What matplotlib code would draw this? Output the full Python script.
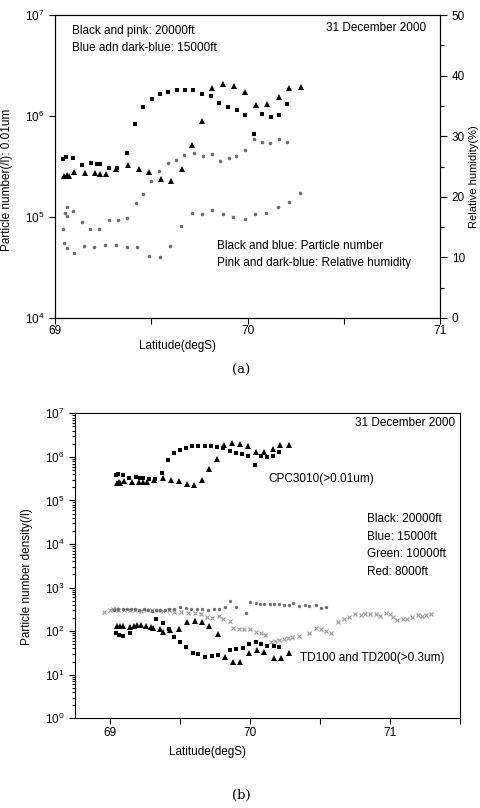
import matplotlib
matplotlib.use("Agg")
import matplotlib.pyplot as plt
from matplotlib.ticker import (LogLocator, FixedLocator, MultipleLocator,
                               NullFormatter, NullLocator)

plt.rcParams['font.family'] = ['Liberation Sans', 'DejaVu Sans']
plt.rcParams['mathtext.fontset'] = 'custom'
plt.rcParams['mathtext.rm'] = 'Liberation Sans'

# CPC3010 particle number (>0.01um), 20000ft (black squares)
cpc20_lat = [69.043, 69.055, 69.095, 69.139, 69.187, 69.216, 69.234, 69.282, 69.324, 69.372,
             69.416, 69.459, 69.502, 69.545, 69.589, 69.632, 69.675, 69.719, 69.762, 69.809,
             69.854, 69.900, 69.944, 69.987, 70.035, 70.077, 70.120, 70.162, 70.205]
cpc20_val = [3.75e5, 3.95e5, 3.84e5, 3.3e5, 3.4e5, 3.35e5, 3.35e5, 3.06e5, 3.06e5, 4.34e5,
             8.27e5, 1.24e6, 1.46e6, 1.64e6, 1.73e6, 1.81e6, 1.81e6, 1.81e6, 1.65e6, 1.58e6,
             1.35e6, 1.24e6, 1.15e6, 1.02e6, 6.6e5, 1.04e6, 9.8e5, 1.03e6, 1.32e6]

# CPC3010 particle number, 15000ft (triangles)
cpc15_lat = [69.048, 69.061, 69.073, 69.099, 69.156, 69.208, 69.234, 69.265, 69.317, 69.381,
             69.435, 69.490, 69.551, 69.603, 69.658, 69.710, 69.762, 69.817, 69.874, 69.930,
             69.987, 70.044, 70.100, 70.162, 70.217, 70.276]
cpc15_val = [2.57e5, 2.6e5, 2.55e5, 2.77e5, 2.7e5, 2.7e5, 2.69e5, 2.64e5, 2.96e5, 3.27e5,
             2.99e5, 2.77e5, 2.38e5, 2.25e5, 2.97e5, 5.16e5, 8.9e5, 1.88e6, 2.07e6, 1.98e6,
             1.74e6, 1.28e6, 1.31e6, 1.53e6, 1.88e6, 1.92e6]

# relative humidity (%), 20000ft (pink)
rh20_lat = [69.043, 69.052, 69.061, 69.062, 69.094, 69.139, 69.184, 69.229, 69.282, 69.327,
            69.374, 69.419, 69.459, 69.497, 69.542, 69.589, 69.629, 69.672, 69.722, 69.767,
            69.814, 69.857, 69.902, 69.940, 69.989, 70.034, 70.074, 70.118, 70.162, 70.203]
rh20_val = [14.7, 17.3, 18.3, 16.8, 17.7, 15.9, 14.7, 14.7, 16.1, 16.1,
            16.5, 18.9, 20.4, 22.6, 24.2, 25.5, 26.1, 26.9, 27.3, 26.8,
            27.1, 25.9, 26.4, 26.8, 27.8, 29.5, 29.0, 28.9, 29.5, 29.1]

# relative humidity (%), 15000ft (dark-blue)
rh15_lat = [69.049, 69.062, 69.099, 69.149, 69.204, 69.260, 69.317, 69.376, 69.428, 69.490,
            69.544, 69.599, 69.655, 69.710, 69.764, 69.814, 69.871, 69.926, 69.985, 70.039,
            70.098, 70.157, 70.214, 70.274]
rh15_val = [12.3, 11.5, 10.7, 11.8, 11.7, 12.0, 12.0, 11.7, 11.7, 10.3,
            10.0, 11.8, 15.1, 17.3, 17.1, 17.8, 17.1, 16.6, 16.3, 17.1,
            17.3, 18.3, 19.2, 20.7]

# TD100/TD200 (>0.3um), 20000ft
td20_lat = [69.045, 69.065, 69.09, 69.14, 69.33, 69.38, 69.42, 69.46, 69.50, 69.54,
            69.59, 69.63, 69.68, 69.73, 69.77, 69.86, 69.90, 69.95, 69.99, 70.04,
            70.08, 70.12, 70.17, 70.21]
td20_val = [93, 80, 77, 92, 188, 152, 110, 72, 56, 43,
            32, 30, 26, 27, 29, 37, 39, 41, 50, 55,
            51, 46, 46, 43]

# TD, 15000ft
td15_lat = [69.048, 69.07, 69.09, 69.14, 69.17, 69.19, 69.22, 69.26, 69.29, 69.31,
            69.36, 69.38, 69.43, 69.49, 69.55, 69.61, 69.66, 69.71, 69.77, 69.82,
            69.88, 69.93, 69.99, 70.05, 70.10, 70.17, 70.22, 70.28]
td15_val = [130, 132, 132, 124, 132, 142, 137, 132, 124, 118,
            111, 96, 107, 111, 163, 169, 161, 128, 87, 25,
            20, 20, 32, 37, 34, 24, 24, 32]

# TD, 10000ft
td10_lat = [69.03, 69.06, 69.09, 69.12, 69.15, 69.18, 69.21, 69.24, 69.27, 69.30,
            69.33, 69.36, 69.39, 69.42, 69.46, 69.50, 69.54, 69.58, 69.62, 69.66,
            69.70, 69.74, 69.78, 69.82, 69.86, 69.90, 69.97, 70.00, 70.04, 70.07,
            70.10, 70.14, 70.17, 70.21, 70.24, 70.28, 70.31, 70.35, 70.39, 70.42,
            70.47, 70.51, 70.54]
td10_val = [310, 330, 320, 330, 320, 320, 310, 320, 300, 290,
            300, 310, 310, 330, 330, 350, 340, 330, 330, 320,
            310, 320, 330, 360, 480, 350, 260, 470, 440, 420,
            420, 423, 423, 410, 405, 401, 438, 380, 401, 380,
            401, 336, 355]

# TD, 8000ft
td8_lat = [68.96, 69.00, 69.02, 69.04, 69.06, 69.10, 69.14, 69.18, 69.22, 69.26,
           69.30, 69.34, 69.38, 69.42, 69.46, 69.51, 69.56, 69.61, 69.65, 69.69,
           69.73, 69.78, 69.81, 69.86, 69.88, 69.92, 69.96, 70.00, 70.04, 70.08,
           70.11, 70.15, 70.18, 70.21, 70.24, 70.27, 70.30, 70.35, 70.42, 70.47,
           70.51, 70.54, 70.58, 70.63, 70.67, 70.71, 70.75, 70.79, 70.82, 70.86,
           70.90, 70.93, 70.97, 71.00, 71.02, 71.05, 71.09, 71.12, 71.16, 71.20,
           71.23, 71.26, 71.29]
td8_val = [270, 300, 330, 320, 310, 300, 310, 300, 290, 300,
           310, 300, 290, 300, 280, 270, 260, 255, 245, 210,
           200, 225, 190, 175, 118, 115, 110, 110, 98, 90,
           82, 55, 58, 62, 66, 70, 73, 76, 90, 120,
           110, 103, 93, 160, 188, 210, 250, 235, 250, 246,
           246, 228, 258, 250, 210, 182, 188, 188, 215, 237,
           224, 237, 246]

lat_ticks = [69, 70, 71]

FS = 8.5
GRAY = '#6e6e6e'

fig = plt.figure(figsize=(4.8, 8.08), dpi=100)


def fig_text(x, y, s, ha='left'):
    # place text by pixel position (from top-left) of the figure
    fig.text(x / 480, 1 - y / 808, s, ha=ha, va='center', fontsize=FS)


# ---------------- panel (a) ----------------
ax = fig.add_axes([55 / 480, 1 - 318 / 808, 385 / 480, 303 / 808])
ax.set_yscale('log')
ax.set_xlim(69, 71)
ax.set_ylim(1e4, 1e7)
ax.plot(cpc20_lat, cpc20_val, 's', color='black', ms=2.8, mew=0)
ax.plot(cpc15_lat, cpc15_val, '^', color='black', ms=3.8, mew=0)
ax.xaxis.set_major_locator(FixedLocator(lat_ticks))
ax.xaxis.set_minor_locator(MultipleLocator(0.5))
ax.yaxis.set_major_locator(LogLocator(base=10, numticks=10))
ax.yaxis.set_minor_locator(NullLocator())
ax.tick_params(which='both', direction='out', labelsize=FS, width=0.8, length=4)
ax.tick_params(axis='x', pad=1)
ax.set_xticklabels([str(t) for t in lat_ticks])
ax.set_xlabel('Latitude(degS)', fontsize=FS)
ax.xaxis.set_label_coords((178 - 55) / 385, -0.072)
ax.set_ylabel('Particle number(/l): 0.01um', fontsize=FS)
ax.yaxis.set_label_coords(-0.11, 0.455)

ax2 = ax.twinx()
ax2.set_ylim(0, 50)
ax2.plot(rh20_lat, rh20_val, 'o', color=GRAY, ms=2.6, mew=0)
ax2.plot(rh15_lat, rh15_val, 'o', color=GRAY, ms=2.6, mew=0)
ax2.yaxis.set_major_locator(MultipleLocator(10))
ax2.yaxis.set_minor_locator(MultipleLocator(5))
ax2.tick_params(which='both', direction='out', labelsize=FS, width=0.8)
ax2.tick_params(which='major', length=5)
ax2.tick_params(which='minor', length=3)
ax2.set_ylabel('Relative humidity(%)', fontsize=8)
ax2.yaxis.set_label_coords((469 - 55) / 385, 0.465)

fig_text(72, 31, 'Black and pink: 20000ft')
fig_text(72, 48, 'Blue adn dark-blue: 15000ft')
fig_text(426, 28, '31 December 2000', ha='right')
fig_text(217, 246, 'Black and blue: Particle number')
fig_text(217, 263, 'Pink and dark-blue: Relative humidity')
fig.text(241 / 480, 1 - 370 / 808, '(a)', ha='center', va='center',
         fontsize=9.5, family='DejaVu Serif')

# ---------------- panel (b) ----------------
bx = fig.add_axes([75 / 480, 1 - 718.3 / 808, 385 / 480, 305 / 808])
bx.set_yscale('log')
bx.set_xlim(68.75, 71.5)
bx.set_ylim(1, 1e7)
bx.plot(cpc20_lat, cpc20_val, 's', color='black', ms=2.8, mew=0)
bx.plot(cpc15_lat, cpc15_val, '^', color='black', ms=3.8, mew=0)
bx.plot(td8_lat, td8_val, 'x', color='#9a9a9a', ms=2.6, mew=0.8)
bx.plot(td10_lat, td10_val, 'o', color=GRAY, ms=2.4, mew=0)
bx.plot(td20_lat, td20_val, 's', color='black', ms=2.8, mew=0)
bx.plot(td15_lat, td15_val, '^', color='black', ms=3.8, mew=0)
bx.xaxis.set_major_locator(FixedLocator(lat_ticks))
bx.xaxis.set_minor_locator(FixedLocator([69.5, 70.5, 71.5]))
bx.yaxis.set_major_locator(LogLocator(base=10, numticks=10))
bx.yaxis.set_minor_locator(LogLocator(base=10, subs=range(2, 10), numticks=20))
bx.yaxis.set_minor_formatter(NullFormatter())
bx.tick_params(which='both', direction='out', labelsize=FS, width=0.8)
bx.tick_params(which='major', length=4)
bx.tick_params(axis='y', which='minor', length=2)
bx.tick_params(axis='x', which='minor', length=4)
bx.tick_params(axis='x', pad=2)
bx.set_xticklabels([str(t) for t in lat_ticks])
bx.set_xlabel('Latitude(degS)', fontsize=FS)
bx.xaxis.set_label_coords((208 - 75) / 385, -0.092)
bx.set_ylabel('Particle number density(/l)', fontsize=FS)
bx.yaxis.set_label_coords(-0.11, 0.463)

fig_text(455, 423, '31 December 2000', ha='right')
fig_text(268, 479, 'CPC3010(>0.01um)')
fig_text(367, 519, 'Black: 20000ft')
fig_text(367, 537, 'Blue: 15000ft')
fig_text(367, 554, 'Green: 10000ft')
fig_text(367, 572, 'Red: 8000ft')
fig_text(300, 658, 'TD100 and TD200(>0.3um)')
fig.text(241 / 480, 1 - 795 / 808, '(b)', ha='center', va='center',
         fontsize=9.5, family='DejaVu Serif')

fig.savefig('out.png', dpi=100)
